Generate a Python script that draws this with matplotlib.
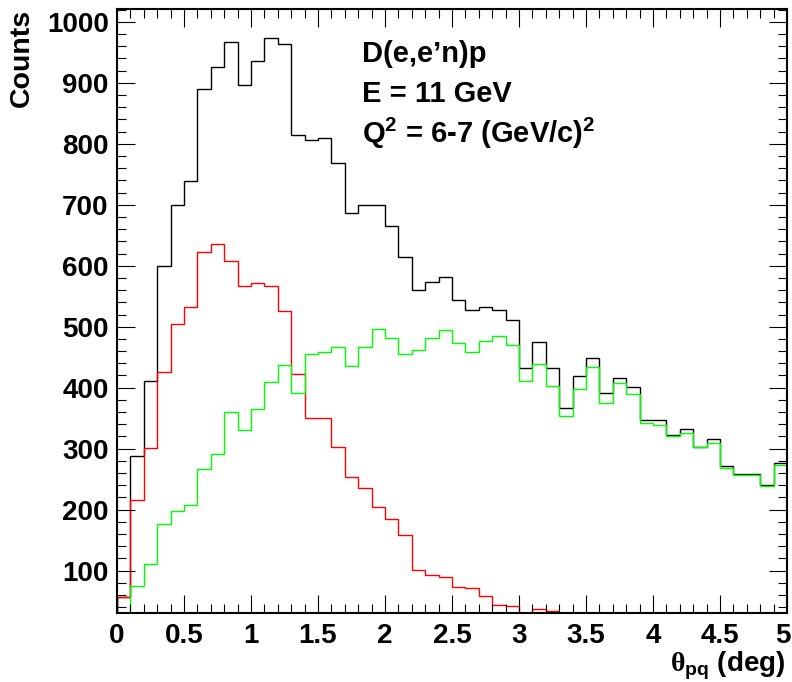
import numpy as np
import matplotlib
matplotlib.use('Agg')
import matplotlib.pyplot as plt
from matplotlib.ticker import MultipleLocator, FuncFormatter

plt.rcParams['font.family'] = ['Liberation Sans', 'DejaVu Sans']
plt.rcParams['font.weight'] = 'bold'
plt.rcParams['mathtext.fontset'] = 'custom'
plt.rcParams['mathtext.rm'] = 'Liberation Serif'
plt.rcParams['mathtext.bf'] = 'Liberation Sans:bold'
plt.rcParams['mathtext.it'] = 'Liberation Sans:italic'

# theta_pq histogram, 50 bins of 0.1 deg from 0 to 5
bin_lo = 0.0
bin_hi = 5.0
n_bins = 50

total = [57, 288, 411, 600, 700, 739, 889, 926, 967, 896,
         936, 974, 964, 814, 806, 809, 768, 687, 700, 699,
         665, 615, 560, 574, 581, 543, 527, 533, 527, 511,
         433, 475, 433, 366, 419, 448, 391, 416, 401, 347,
         347, 323, 332, 303, 316, 272, 258, 258, 240, 277]

red = [56, 216, 301, 426, 504, 533, 622, 636, 608, 567,
       572, 567, 526, 422, 351, 351, 302, 253, 235, 204,
       184, 159, 101, 93, 90, 73, 71, 59, 44, 42,
       22, 37, 34, 13, 21, 14, 16, 9, 11, 5,
       9, 2, 6, 0, 6, 4, 2, 2, 1, 3]

green = [2, 74, 111, 176, 198, 208, 267, 291, 360, 331,
         365, 409, 438, 392, 456, 459, 467, 436, 467, 497,
         482, 456, 461, 481, 494, 473, 458, 477, 484, 470,
         411, 439, 402, 353, 398, 434, 375, 407, 390, 342,
         338, 321, 326, 303, 310, 268, 256, 256, 239, 274]

labels = ['D(e,e\u2019n)p', 'E = 11 GeV',
          r'Q$^{\mathbf{2}}$ = 6-7 (GeV/c)$^{\mathbf{2}}$']

ymin, ymax = 30.5, 1021

fig = plt.figure(figsize=(7.92, 6.82), dpi=100)
ax = fig.add_axes([117 / 792, 1 - 613 / 682, 670 / 792, 604 / 682])

edges = np.linspace(bin_lo, bin_hi, n_bins + 1)
for vals, col in [(total, 'black'), (red, '#ff0000'), (green, '#00ff00')]:
    # like ROOT, draw underflowing bins along the bottom of the frame
    v = np.clip(np.array(vals, dtype=float), ymin, None)
    ax.stairs(v, edges, baseline=ymin, color=col, lw=1.0)

ax.set_xlim(bin_lo, bin_hi)
ax.set_ylim(ymin, ymax)

ax.xaxis.set_major_locator(MultipleLocator(0.5))
ax.xaxis.set_minor_locator(MultipleLocator(0.1))
ax.yaxis.set_major_locator(MultipleLocator(100))
ax.yaxis.set_minor_locator(MultipleLocator(20))
# the label at the right end is placed by hand so it stays on the canvas
ax.xaxis.set_major_formatter(FuncFormatter(lambda v, p: '' if v >= bin_hi - 1e-9 else '%g' % v))
ax.set_yticks(np.arange(100, 1001, 100))

ax.tick_params(which='both', direction='in', top=True, right=True, width=0.8,
               labelsize=20)
ax.tick_params(which='major', length=13)
ax.tick_params(which='minor', length=6.5)
ax.tick_params(axis='x', pad=7)
ax.tick_params(axis='y', pad=6)
for s in ax.spines.values():
    s.set_linewidth(1.5)

fig.text(791 / 792, 1 - 623 / 682, '%g' % bin_hi, ha='right', va='top',
         fontsize=20, fontweight='bold')

for i, t in enumerate(labels):
    ax.text(0.366, [0.913, 0.8465, 0.778][i], t, transform=ax.transAxes,
            fontsize=21, fontweight='bold', va='baseline', ha='left')

fig.text(22 / 792, 1 - 9 / 682, 'Counts', rotation=90, ha='center', va='top',
         fontsize=20.5, fontweight='bold')
fig.text(785 / 792, 1 - 672 / 682, r'$\mathrm{\theta}_{\mathbf{pq}}$ (deg)',
         ha='right', va='baseline', fontsize=20, fontweight='bold')

fig.savefig('out.png', dpi=100)
